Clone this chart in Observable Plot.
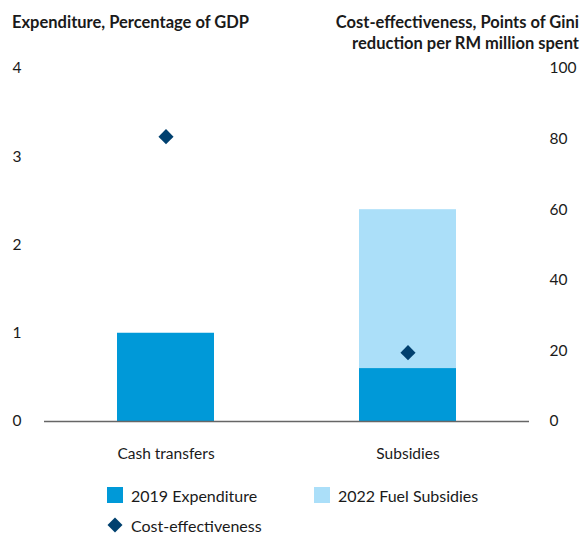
<!DOCTYPE html>
<html>
<head>
<meta charset="utf-8">
<script src="https://cdn.jsdelivr.net/npm/d3@7"></script>
<script src="https://cdn.jsdelivr.net/npm/@observablehq/plot@0.6"></script>
<style>
  html, body { margin: 0; padding: 0; background: #fff; }
  body { width: 582px; height: 533px; font-family: Lato, "Noto Sans", sans-serif; color: #1a1a1a; position: relative; overflow: hidden; }
  #header { position: relative; height: 50px; }
  #ltitle { position: absolute; left: 12px; top: 12px; font-weight: 700; font-size: 16.5px; line-height: 20px; }
  #rtitle { position: absolute; right: 3px; top: 12px; font-weight: 700; font-size: 16.5px; line-height: 21px; text-align: right; }
  #legend { position: absolute; left: 0; top: 483px; width: 582px; font-size: 16px; color: #1a1a1a; }
  .item { position: absolute; display: flex; align-items: center; height: 20px; }
  .sw { width: 16px; height: 16px; margin-right: 8px; }
  .dia { width: 16px; height: 16px; margin-right: 8px; }
</style>
</head>
<body>
<div id="header">
  <div id="ltitle">Expenditure, Percentage of GDP</div>
  <div id="rtitle">Cost-effectiveness, Points of Gini<br>reduction per RM million spent</div>
</div>
<div id="chart"></div>
<div id="legend"></div>
<script>
const categories = ["Cash transfers", "Subsidies"];
const expenditure2019 = [1.0, 0.6];
const fuelSubsidies2022 = [0, 1.8];
const costEffectiveness = [80.7, 19.5];
const leftTicks = [0, 1, 2, 3, 4];
const rightTicks = [0, 20, 40, 60, 80, 100];
const seriesNames = ["2019 Expenditure", "2022 Fuel Subsidies", "Cost-effectiveness"];
const colors = {"2019 Expenditure": "#0099d8", "2022 Fuel Subsidies": "#abdff9", "Cost-effectiveness": "#00406f"};

const bars = [];
categories.forEach((c, i) => {
  bars.push({cat: c, series: seriesNames[0], value: expenditure2019[i]});
  if (fuelSubsidies2022[i] > 0) bars.push({cat: c, series: seriesNames[1], value: fuelSubsidies2022[i]});
});
const dots = categories.map((c, i) => ({cat: c, cost: costEffectiveness[i]}));
const ratio = 4 / 100; // right axis 0–100 maps onto left axis 0–4

const chart = Plot.plot({
  width: 582,
  height: 425,
  marginTop: 18,
  marginBottom: 54,
  marginLeft: 44,
  marginRight: 53,
  style: {fontFamily: "Lato, 'Noto Sans', sans-serif", fontSize: "15.5px", color: "#1a1a1a", background: "#fff"},
  x: {domain: categories, paddingInner: 0.6, paddingOuter: 0.3, align: 0.5, label: null},
  y: {domain: [0, 4], label: null},
  color: {domain: seriesNames, range: seriesNames.map(s => colors[s])},
  marks: [
    Plot.barY(bars, Plot.stackY({x: "cat", y: "value", fill: "series", order: seriesNames})),
    Plot.ruleY([0], {stroke: "#666", strokeWidth: 1.3}),
    Plot.dot(dots, {x: "cat", y: d => d.cost * ratio, symbol: "diamond2", r: 6.8, fill: colors["Cost-effectiveness"], stroke: "none"}),
    Plot.axisX({tickSize: 0, tickPadding: 26, label: null, fontSize: 15.5}),
    Plot.axisY(leftTicks, {anchor: "left", tickSize: 0, tickPadding: 32, textAnchor: "start", tickFormat: d3.format("d"), label: null, fontSize: 15.5}),
    Plot.axisY(rightTicks.map(t => t * ratio), {anchor: "right", tickSize: 0, tickPadding: 20, textAnchor: "start", tickFormat: d => Math.round(d / ratio), label: null, fontSize: 15.5})
  ]
});
document.getElementById("chart").appendChild(chart);

// Legend
const legend = document.getElementById("legend");
const items = [
  {name: seriesNames[0], left: 107, top: 2, kind: "sq"},
  {name: seriesNames[1], left: 314, top: 2, kind: "sq"},
  {name: seriesNames[2], left: 107, top: 32, kind: "dia"}
];
items.forEach(it => {
  const el = document.createElement("div");
  el.className = "item";
  el.style.left = it.left + "px";
  el.style.top = it.top + "px";
  if (it.kind === "sq") {
    el.innerHTML = `<div class="sw" style="background:${colors[it.name]}"></div><span>${it.name}</span>`;
  } else {
    el.innerHTML = `<svg class="dia" viewBox="0 0 16 16"><path d="M8 0.5 L15.5 8 L8 15.5 L0.5 8 Z" fill="${colors[it.name]}"/></svg><span>${it.name}</span>`;
  }
  legend.appendChild(el);
});
</script>
</body>
</html>
